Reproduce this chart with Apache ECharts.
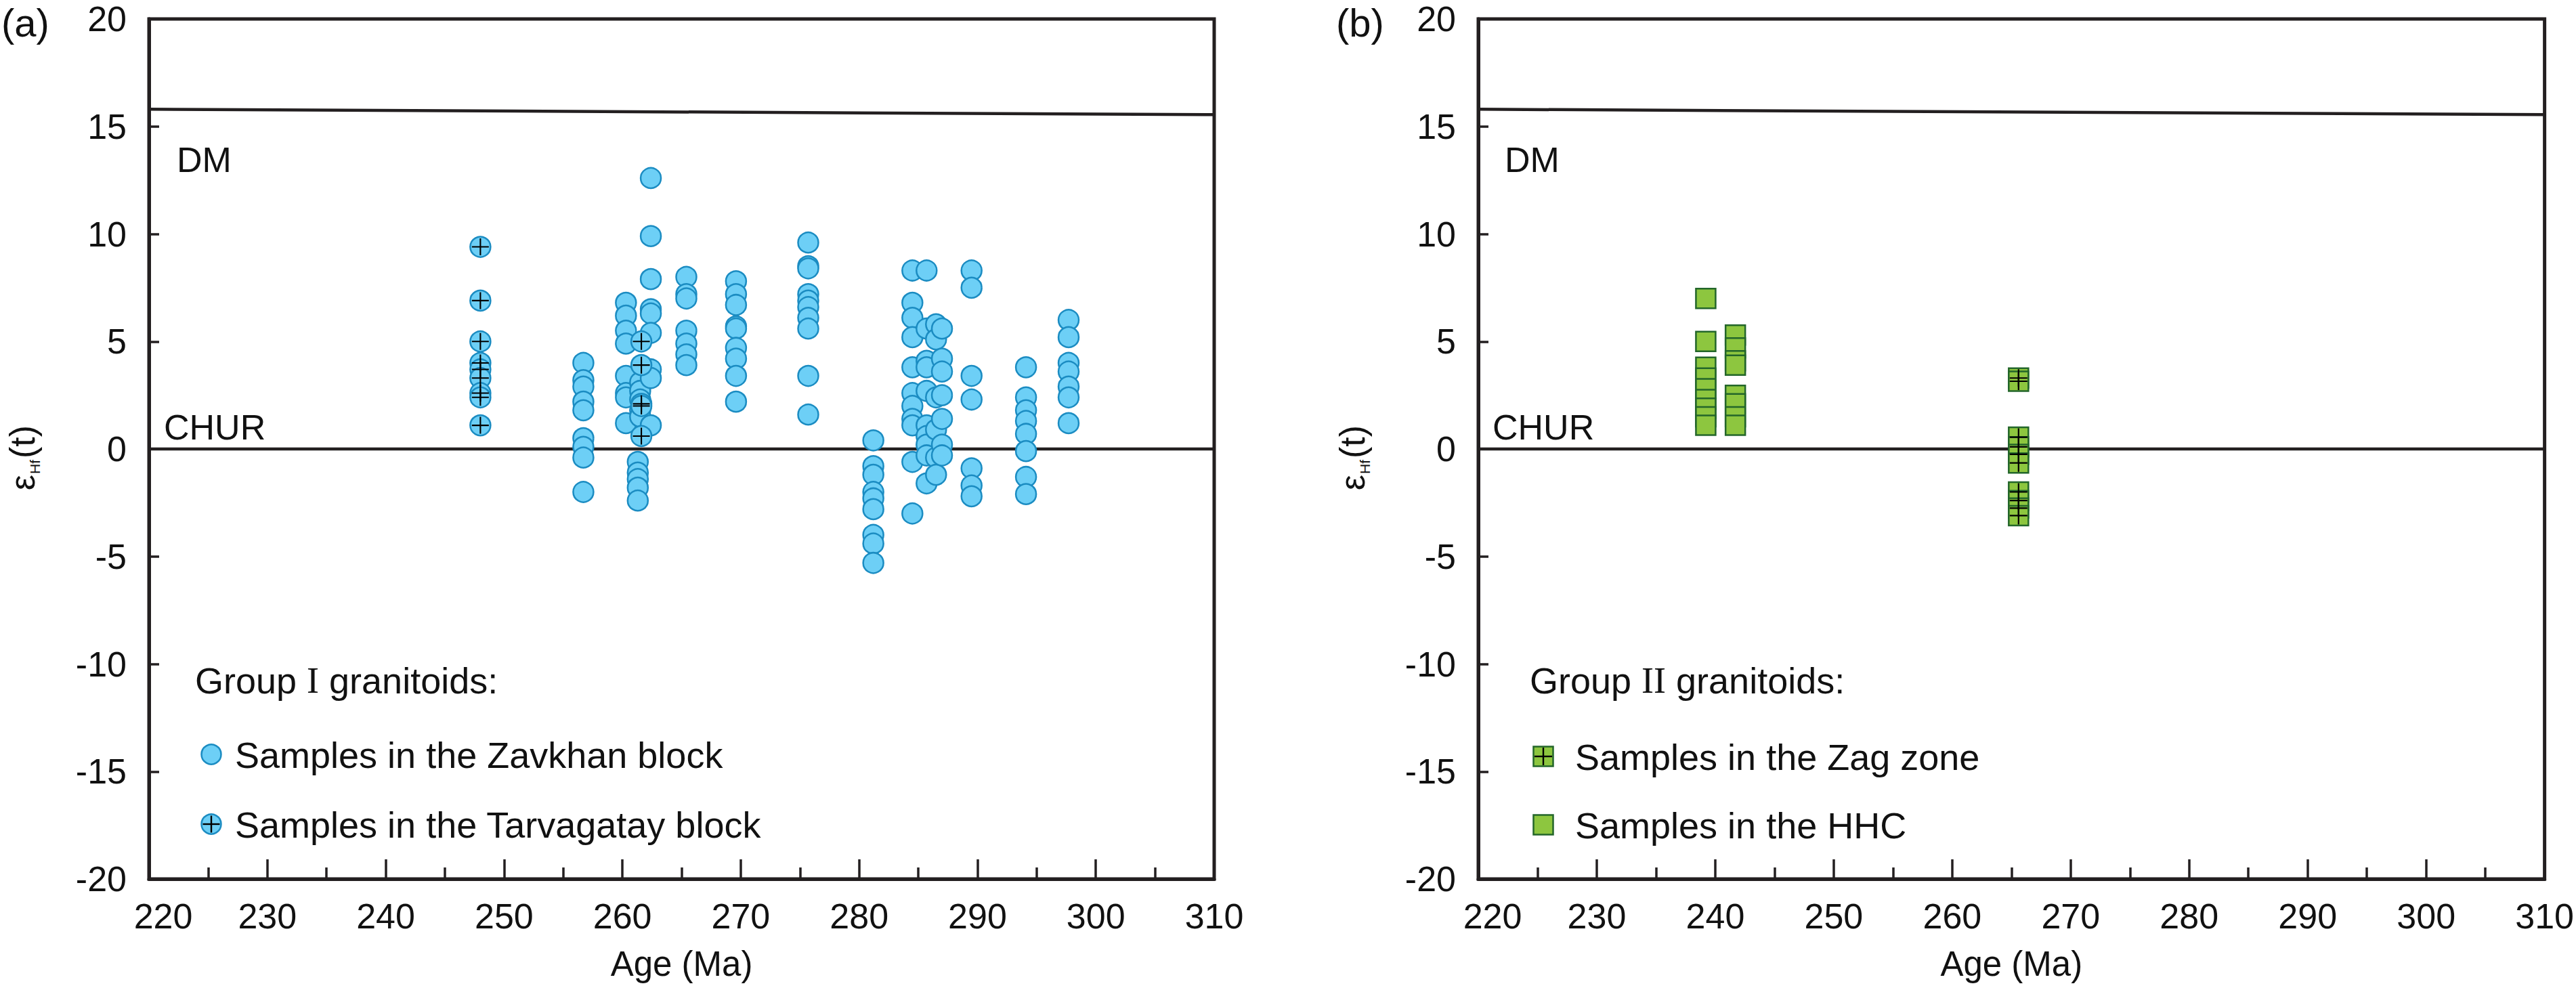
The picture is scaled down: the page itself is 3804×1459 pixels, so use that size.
<!DOCTYPE html>
<html>
<head>
<meta charset="utf-8">
<script src="https://cdn.jsdelivr.net/npm/echarts@6/dist/echarts.min.js"></script>
<style>
html,body{margin:0;padding:0;background:#ffffff;}
#chart{width:3804px;height:1459px;}
</style>
</head>
<body>
<div id="chart"></div>
<script>
// ---------------- data ----------------
const xTicks = [220, 230, 240, 250, 260, 270, 280, 290, 300, 310];
const yTicks = [-20, -15, -10, -5, 0, 5, 10, 15, 20];

// Evolution reference lines [age, eHf]
const dmLine = [[220, 15.8], [310, 15.55]];
const churLine = [[220, 0], [310, 0]];

// Group I granitoids - Zavkhan block [age (Ma), eHf(t)]
const zavkhan = [
  [256.7, 4.0], [256.7, 3.2], [256.7, 2.9], [256.7, 2.2], [256.7, 1.8], [256.7, 0.5], [256.7, 0.1], [256.7, -0.4], [256.7, -2.0],
  [260.3, 6.8], [260.3, 6.2], [260.3, 5.5], [260.3, 4.9], [260.3, 3.4], [260.3, 2.6], [260.3, 2.4], [260.3, 1.2],
  [261.3, -0.6], [261.3, -1.1], [261.3, -1.4], [261.3, -1.8], [261.3, -2.4],
  [261.5, 3.1], [261.5, 2.7], [261.5, 2.3], [261.5, 1.8], [261.5, 1.5],
  [262.4, 12.6], [262.4, 9.9], [262.4, 7.9], [262.4, 6.5], [262.4, 6.3], [262.4, 5.4], [262.4, 3.7], [262.4, 3.3], [262.4, 1.1],
  [265.4, 8.0], [265.4, 7.2], [265.4, 7.0], [265.4, 5.5], [265.4, 4.9], [265.4, 4.4], [265.4, 3.9],
  [269.6, 7.8], [269.6, 7.2], [269.6, 6.7], [269.6, 5.7], [269.6, 5.6], [269.6, 4.7], [269.6, 4.2], [269.6, 3.4], [269.6, 2.2],
  [275.7, 9.6], [275.7, 8.5], [275.7, 8.4], [275.7, 7.2], [275.7, 6.9], [275.7, 6.6], [275.7, 6.1], [275.7, 5.6], [275.7, 3.4], [275.7, 1.6],
  [281.2, 0.4], [281.2, -0.8], [281.2, -1.2], [281.2, -2.0], [281.2, -2.3], [281.2, -2.8], [281.2, -4.0], [281.2, -4.4], [281.2, -5.3],
  [284.5, 8.3], [284.5, 6.8], [284.5, 6.1], [284.5, 5.2], [284.5, 3.8], [284.5, 2.6], [284.5, 2.0], [284.5, 1.4], [284.5, 1.1], [284.5, -0.6], [284.5, -3.0],
  [285.7, 8.3], [285.7, 5.6], [285.7, 4.1], [285.7, 3.8], [285.7, 2.7], [285.7, 1.1], [285.7, 0.6], [285.7, 0.2], [285.7, -0.3], [285.7, -1.6],
  [286.5, 5.8], [286.5, 5.1], [286.5, 2.4], [286.5, 0.9], [286.5, -0.4], [286.5, -1.2],
  [287.0, 5.6], [287.0, 4.2], [287.0, 3.6], [287.0, 2.5], [287.0, 1.4], [287.0, 0.2], [287.0, -0.3],
  [289.5, 8.3], [289.5, 7.5], [289.5, 3.4], [289.5, 2.3], [289.5, -0.9], [289.5, -1.7], [289.5, -2.2],
  [294.1, 3.8], [294.1, 2.4], [294.1, 1.8], [294.1, 1.3], [294.1, 0.7], [294.1, -0.1], [294.1, -1.3], [294.1, -2.1],
  [297.7, 6.0], [297.7, 5.2], [297.7, 4.0], [297.7, 3.6], [297.7, 2.9], [297.7, 2.4], [297.7, 1.2]
];

// Group I granitoids - Tarvagatay block
const tarvagatay = [
  [248.0, 9.4], [248.0, 6.9], [248.0, 5.0], [248.0, 4.0], [248.0, 3.7], [248.0, 3.3], [248.0, 2.6], [248.0, 2.4], [248.0, 1.1],
  [261.6, 5.0], [261.6, 3.9], [261.6, 2.1], [261.6, 2.0], [261.6, 0.6]
];

// Group II granitoids - HHC
const hhc = [
  [239.2, 7.0], [239.2, 5.0], [239.2, 3.8], [239.2, 3.3], [239.2, 2.8], [239.2, 2.3], [239.2, 1.9], [239.2, 1.5], [239.2, 1.1],
  [241.7, 5.3], [241.7, 4.7], [241.7, 4.1], [241.7, 3.9], [241.7, 2.5], [241.7, 2.1], [241.7, 1.5], [241.7, 1.1]
];

// Group II granitoids - Zag zone
const zag = [
  [265.6, 3.3], [265.6, 3.15], [265.6, 0.55], [265.6, 0.1], [265.6, -0.25], [265.6, -0.65],
  [265.6, -2.0], [265.6, -2.4], [265.6, -2.75], [265.6, -3.1]
];

// ---------------- style ----------------
const FONT = "'Liberation Sans', Arial, 'Noto Sans CJK SC', sans-serif";
const SERIF = "'Liberation Serif', 'Times New Roman', serif";
const INK = '#231f20';
const TXT = '#111111';
const BLUE = '#6dcff6';
const BLUE_EDGE = '#1b8cc2';
const GREEN = '#8dc63f';
const GREEN_EDGE = '#23662a';
const PLUS = 'path://M-1.1,-13 L1.1,-13 L1.1,13 L-1.1,13 Z M-13,-1.1 L13,-1.1 L13,1.1 L-13,1.1 Z';

const grids = [
  {left: 220, top: 28, width: 1573, height: 1270},
  {left: 2183, top: 28, width: 1575, height: 1270}
];

function makeX(i) {
  return {
    gridIndex: i, type: 'value',
    min: xTicks[0], max: xTicks[xTicks.length - 1], interval: xTicks[1] - xTicks[0],
    axisLine: {show: true, onZero: false, lineStyle: {color: INK, width: 5}},
    axisTick: {show: true, inside: true, length: 29, lineStyle: {color: INK, width: 3.5}},
    minorTick: {show: true, splitNumber: 2, length: 17, lineStyle: {color: INK, width: 3.5}},
    splitLine: {show: false},
    axisLabel: {
      fontSize: 52, fontFamily: FONT, color: TXT, margin: 29,
      formatter: function (v) { return v === xTicks[0] ? '{f|' + v + '}' : String(v); },
      rich: {f: {fontSize: 52, fontFamily: FONT, color: TXT, padding: [0, 0, 0, 42]}}
    },
    name: 'Age (Ma)', nameLocation: 'middle', nameGap: 100,
    nameTextStyle: {fontSize: 51, fontFamily: FONT, color: TXT}
  };
}
function makeY(i) {
  return {
    gridIndex: i, type: 'value',
    min: yTicks[0], max: yTicks[yTicks.length - 1], interval: yTicks[1] - yTicks[0],
    axisLine: {show: true, onZero: false, lineStyle: {color: INK, width: 5}},
    axisTick: {show: true, inside: true, length: 15, lineStyle: {color: INK, width: 3.5}},
    splitLine: {show: false},
    axisLabel: {fontSize: 52, fontFamily: FONT, color: TXT, margin: 33}
  };
}

function refLines(i) {
  return [
    {type: 'line', xAxisIndex: i, yAxisIndex: i, data: dmLine, symbol: 'none', silent: true,
     lineStyle: {color: INK, width: 4.5}, z: 1},
    {type: 'line', xAxisIndex: i, yAxisIndex: i, data: churLine, symbol: 'none', silent: true,
     lineStyle: {color: INK, width: 4.5}, z: 1}
  ];
}

const series = [].concat(refLines(0), refLines(1), [
  {type: 'scatter', name: 'Samples in the Zavkhan block', xAxisIndex: 0, yAxisIndex: 0, data: zavkhan,
   symbol: 'circle', symbolSize: 30, z: 3,
   itemStyle: {color: BLUE, borderColor: BLUE_EDGE, borderWidth: 2.5, opacity: 1}},
  {type: 'scatter', name: 'Samples in the Tarvagatay block', xAxisIndex: 0, yAxisIndex: 0, data: tarvagatay,
   symbol: 'circle', symbolSize: 30, z: 4,
   itemStyle: {color: BLUE, borderColor: BLUE_EDGE, borderWidth: 2.5, opacity: 1}},
  {type: 'scatter', name: 'Tarvagatay cross', xAxisIndex: 0, yAxisIndex: 0, data: tarvagatay,
   symbol: PLUS, symbolSize: 25, z: 5, itemStyle: {color: '#000000', opacity: 1}},
  {type: 'scatter', name: 'Samples in the HHC', xAxisIndex: 1, yAxisIndex: 1, data: hhc,
   symbol: 'rect', symbolSize: 29, z: 3,
   itemStyle: {color: GREEN, borderColor: GREEN_EDGE, borderWidth: 2.5, opacity: 1}},
  {type: 'scatter', name: 'Samples in the Zag zone', xAxisIndex: 1, yAxisIndex: 1, data: zag,
   symbol: 'rect', symbolSize: 29, z: 3,
   itemStyle: {color: GREEN, borderColor: GREEN_EDGE, borderWidth: 2.5, opacity: 1}},
  {type: 'scatter', name: 'Zag cross', xAxisIndex: 1, yAxisIndex: 1, data: zag,
   symbol: PLUS, symbolSize: 26, z: 5, itemStyle: {color: '#000000', opacity: 1}}
]);

// ---------------- annotations / legends ----------------
function txt(x, y, text, size, extra) {
  return Object.assign({
    type: 'text', x: x, y: y, silent: true, z: 10,
    style: {text: text, fontSize: size, fontFamily: FONT, fill: TXT, verticalAlign: 'middle', align: 'left'}
  }, extra || {});
}
function groupTitle(x, y, numeral) {
  return {
    type: 'text', x: x, y: y, silent: true, z: 10,
    style: {
      text: '{a|Group }{r|' + numeral + '}{a| granitoids:}', verticalAlign: 'middle', align: 'left',
      rich: {
        a: {fontSize: 54, fontFamily: FONT, fill: TXT, lineHeight: 60},
        r: {fontSize: 54, fontFamily: SERIF, fill: TXT, lineHeight: 60}
      }
    }
  };
}
function yTitle(cx, cy) {
  return {
    type: 'text', x: cx, y: cy, rotation: Math.PI / 2, silent: true, z: 10,
    style: {
      text: '{e|ε}{s|Hf}{e|(t)}', align: 'center', verticalAlign: 'middle',
      rich: {
        e: {fontSize: 52, fontFamily: FONT, fill: TXT, lineHeight: 58},
        s: {fontSize: 21, fontFamily: FONT, fill: TXT, verticalAlign: 'bottom', padding: [0, 2, 0, 1]}
      }
    }
  };
}
function plusLines(cx, cy, half) {
  return [
    {type: 'line', silent: true, z: 12, shape: {x1: cx - half, y1: cy, x2: cx + half, y2: cy}, style: {stroke: '#000', lineWidth: 2.4}},
    {type: 'line', silent: true, z: 12, shape: {x1: cx, y1: cy - half, x2: cx, y2: cy + half}, style: {stroke: '#000', lineWidth: 2.4}}
  ];
}

const graphic = [
  txt(2, 33, '(a)', 58),
  txt(1973, 33, '(b)', 58),
  yTitle(33, 676),
  yTitle(1997, 676),
  txt(261, 236, 'DM', 52),
  txt(242, 631, 'CHUR', 52),
  txt(2222, 236, 'DM', 52),
  txt(2204, 631, 'CHUR', 52),
  // legend panel (a)
  groupTitle(288, 1005, 'I'),
  {type: 'circle', silent: true, z: 11, shape: {cx: 312, cy: 1114, r: 14.5}, style: {fill: BLUE, stroke: BLUE_EDGE, lineWidth: 2.5}},
  txt(347, 1115, 'Samples in the Zavkhan block', 54),
  {type: 'circle', silent: true, z: 11, shape: {cx: 312, cy: 1217, r: 14.5}, style: {fill: BLUE, stroke: BLUE_EDGE, lineWidth: 2.5}}
].concat(plusLines(312, 1217, 12.5), [
  txt(347, 1218, 'Samples in the Tarvagatay block', 54),
  // legend panel (b)
  groupTitle(2259, 1005, 'II'),
  {type: 'rect', silent: true, z: 11, shape: {x: 2264.5, y: 1102.5, width: 29, height: 29}, style: {fill: GREEN, stroke: GREEN_EDGE, lineWidth: 2.5}}
], plusLines(2279, 1117, 13), [
  txt(2326, 1118, 'Samples in the Zag zone', 54),
  {type: 'rect', silent: true, z: 11, shape: {x: 2264.5, y: 1203.5, width: 29, height: 29}, style: {fill: GREEN, stroke: GREEN_EDGE, lineWidth: 2.5}},
  txt(2326, 1219, 'Samples in the HHC', 54)
]);

const option = {
  animation: false,
  backgroundColor: '#ffffff',
  textStyle: {fontFamily: FONT},
  grid: grids.map(g => Object.assign({show: true, borderColor: INK, borderWidth: 5, backgroundColor: 'transparent', containLabel: false}, g)),
  xAxis: [makeX(0), makeX(1)],
  yAxis: [makeY(0), makeY(1)],
  series: series,
  graphic: graphic
};

const chart = echarts.init(document.getElementById('chart'), null, {renderer: 'svg', width: 3804, height: 1459});
chart.setOption(option);
</script>
</body>
</html>
